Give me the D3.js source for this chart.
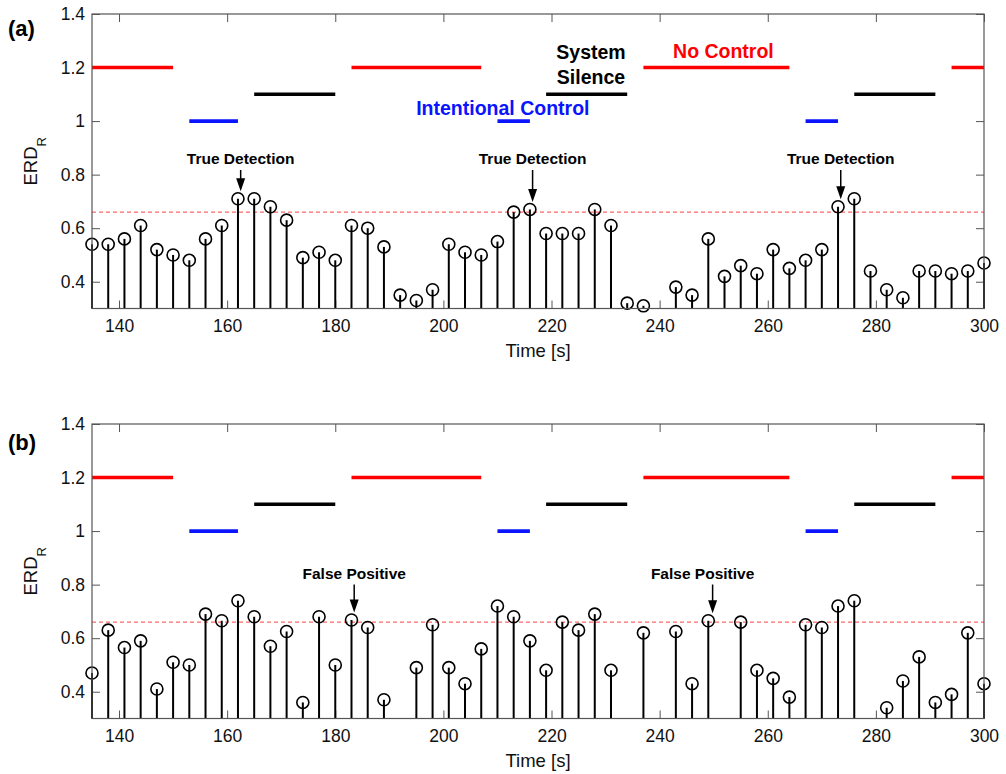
<!DOCTYPE html>
<html>
<head>
<meta charset="utf-8">
<script src="https://cdn.jsdelivr.net/npm/d3@7"></script>
<style>
  body { margin: 0; background: #fff; }
  text { font-family: "Liberation Sans", Arial, Helvetica, sans-serif; }
</style>
</head>
<body>
<svg id="chart" width="1006" height="774"></svg>
<script>
// ---- data -------------------------------------------------------------
const timeTicks = [140, 160, 180, 200, 220, 240, 260, 280, 300];
const erdTicks = [0.4, 0.6, 0.8, 1, 1.2, 1.4];
const threshold = 0.66;

// panel (a): ERD_R per 3 s window
const timesA = [135, 138, 141, 144, 147, 150, 153, 156, 159, 162, 165, 168, 171, 174, 177, 180,
  183, 186, 189, 192, 195, 198, 201, 204, 207, 210, 213, 216, 219, 222, 225, 228, 231, 234, 237,
  243, 246, 249, 252, 255, 258, 261, 264, 267, 270, 273, 276, 279, 282, 285, 288, 291, 294, 297, 300];
const valuesA = [0.54, 0.54, 0.56, 0.61, 0.52, 0.50, 0.48, 0.56, 0.61, 0.71, 0.71, 0.68, 0.63, 0.49, 0.51, 0.48,
  0.61, 0.60, 0.53, 0.35, 0.33, 0.37, 0.54, 0.51, 0.50, 0.55, 0.66, 0.67, 0.58, 0.58, 0.58, 0.67, 0.61, 0.32, 0.31,
  0.38, 0.35, 0.56, 0.42, 0.46, 0.43, 0.52, 0.45, 0.48, 0.52, 0.68, 0.71, 0.44, 0.37, 0.34, 0.44, 0.44, 0.43, 0.44, 0.47];

// panel (b)
const timesB = [135, 138, 141, 144, 147, 150, 153, 156, 159, 162, 165, 168, 171, 174, 177, 180,
  183, 186, 189, 195, 198, 201, 204, 207, 210, 213, 216, 219, 222, 225, 228, 231, 237,
  243, 246, 249, 255, 258, 261, 264, 267, 270, 273, 276, 282, 285, 288, 291, 294, 297, 300];
const valuesB = [0.47, 0.63, 0.565, 0.59, 0.41, 0.51, 0.50, 0.69, 0.665, 0.74, 0.68, 0.57, 0.625, 0.36, 0.68, 0.50,
  0.668, 0.64, 0.37, 0.49, 0.65, 0.49, 0.43, 0.56, 0.72, 0.68, 0.59, 0.48, 0.66, 0.63, 0.69, 0.48, 0.62,
  0.625, 0.43, 0.665, 0.66, 0.48, 0.45, 0.38, 0.65, 0.64, 0.72, 0.74, 0.34, 0.44, 0.53, 0.36, 0.39, 0.62, 0.43];

// task state intervals [start, end] in seconds and the level each is drawn at
const noControlIntervals = [[135, 150], [183, 207], [237, 264], [294, 300]];
const intentionalIntervals = [[153, 162], [210, 216], [267, 273]];
const silenceIntervals = [[165, 180], [219, 234], [276, 291]];
const stateLevels = { noControl: 1.2, silence: 1.1, intentional: 1.0 };

// event markers (time the arrow points at)
const detectionTimesA = [162.5, 216.5, 273.5];
const falsePositiveTimesB = [183.5, 249.8];

// ---- layout -------------------------------------------------------------
const svg = d3.select("#chart");
const X0 = 92, X1 = 984;
const panels = [
  { id: "a", top: 14, bottom: 308.5, times: timesA, values: valuesA, letter: "(a)",
    notes: detectionTimesA.map(t => ({ t, text: "True Detection", dx: 0 })), noteBaseline: 164 },
  { id: "b", top: 424, bottom: 718.5, times: timesB, values: valuesB, letter: "(b)",
    notes: falsePositiveTimesB.map((t, i) => ({ t, text: "False Positive", dx: i === 1 ? -10 : 0 })), noteBaseline: 578.5 }
];

const x = d3.scaleLinear().domain([135, 300]).range([X0, X1]);
const frameColor = "#555";
const tickFont = 17.5;

panels.forEach((p, pi) => {
  const y = d3.scaleLinear().domain([0.3, 1.4]).range([p.bottom, p.top]);
  const g = svg.append("g");

  // axes with inward ticks on all four sides
  const styleAxis = sel => {
    sel.select(".domain").remove();
    sel.selectAll(".tick line").attr("stroke", frameColor).attr("stroke-width", 1);
    sel.selectAll(".tick text").attr("fill", "#111").attr("font-size", tickFont)
      .attr("font-family", '"Liberation Sans", Arial, sans-serif');
  };
  g.append("g").attr("transform", `translate(0,${p.bottom})`)
    .call(d3.axisBottom(x).tickValues(timeTicks).tickSize(-8).tickPadding(11.5).tickFormat(d3.format("d")))
    .call(styleAxis);
  g.append("g").attr("transform", `translate(0,${p.top})`)
    .call(d3.axisTop(x).tickValues(timeTicks).tickSize(-8).tickFormat(""))
    .call(styleAxis);
  g.append("g").attr("transform", `translate(${X0},0)`)
    .call(d3.axisLeft(y).tickValues(erdTicks).tickSize(-8).tickPadding(7).tickFormat(d => String(+d.toFixed(1))))
    .call(styleAxis);
  g.append("g").attr("transform", `translate(${X1},0)`)
    .call(d3.axisRight(y).tickValues(erdTicks).tickSize(-8).tickFormat(""))
    .call(styleAxis);

  // state bars
  const bars = [
    { intervals: noControlIntervals, level: stateLevels.noControl, color: "#ff0000" },
    { intervals: silenceIntervals, level: stateLevels.silence, color: "#000000" },
    { intervals: intentionalIntervals, level: stateLevels.intentional, color: "#0a14ff" }
  ];
  bars.forEach(b => {
    g.selectAll(null).data(b.intervals).enter().append("line")
      .attr("x1", d => x(d[0])).attr("x2", d => x(d[1]))
      .attr("y1", y(b.level)).attr("y2", y(b.level))
      .attr("stroke", b.color).attr("stroke-width", 3.6);
  });

  // detection threshold
  g.append("line")
    .attr("x1", X0).attr("x2", X1).attr("y1", y(threshold)).attr("y2", y(threshold))
    .attr("stroke", "#ff4040").attr("stroke-width", 1).attr("stroke-dasharray", "4,3");

  // stems
  const pts = p.times.map((t, i) => ({ t, v: p.values[i] }));
  g.selectAll(null).data(pts).enter().append("line")
    .attr("x1", d => x(d.t)).attr("x2", d => x(d.t))
    .attr("y1", y(0.3)).attr("y2", d => y(d.v))
    .attr("stroke", "#000").attr("stroke-width", 2);
  g.selectAll(null).data(pts).enter().append("circle")
    .attr("cx", d => x(d.t)).attr("cy", d => y(d.v)).attr("r", 6)
    .attr("fill", "none").attr("stroke", "#000").attr("stroke-width", 1.6);

  // frame
  g.append("rect").attr("x", X0).attr("y", p.top)
    .attr("width", X1 - X0).attr("height", p.bottom - p.top)
    .attr("fill", "none").attr("stroke", frameColor).attr("stroke-width", 1.2);

  // annotations with arrows
  p.notes.forEach(n => {
    const near = pts.reduce((a, b) => Math.abs(b.t - n.t) < Math.abs(a.t - n.t) ? b : a);
    const ax = x(n.t);
    const tip = y(near.v) - 6 - 1.5;
    const top = p.noteBaseline + 6;
    g.append("text").attr("x", ax + n.dx).attr("y", p.noteBaseline)
      .attr("text-anchor", "middle").attr("font-weight", "bold").attr("font-size", 15.5)
      .text(n.text);
    g.append("line").attr("x1", ax).attr("x2", ax).attr("y1", top).attr("y2", tip - 12)
      .attr("stroke", "#000").attr("stroke-width", 1.5);
    g.append("path")
      .attr("d", `M${ax - 4.5},${tip - 13}L${ax + 4.5},${tip - 13}L${ax},${tip}Z`)
      .attr("fill", "#000");
  });

  // panel letter
  g.append("text").attr("x", 8).attr("y", p.top + (pi === 0 ? 22 : 25.5))
    .attr("font-weight", "bold").attr("font-size", 22).text(p.letter);

  // y label ERD_R
  const yl = g.append("text")
    .attr("transform", `translate(36.7,${(p.top + p.bottom) / 2}) rotate(-90)`)
    .attr("text-anchor", "middle").attr("font-size", 18.5).attr("fill", "#111");
  yl.append("tspan").text("ERD");
  yl.append("tspan").attr("dy", 9).attr("font-size", 13).text("R");

  // x label
  g.append("text").attr("x", (X0 + X1) / 2).attr("y", p.bottom + 48.2)
    .attr("text-anchor", "middle").attr("font-size", 18.5).attr("fill", "#111").text("Time [s]");

  // state captions (top panel only)
  if (pi === 0) {
    g.append("text").attr("x", x(251.8)).attr("y", 58.3).attr("text-anchor", "middle")
      .attr("font-weight", "bold").attr("font-size", 19.5).attr("fill", "#ff0000").text("No Control");
    const ss = g.append("text").attr("text-anchor", "middle")
      .attr("font-weight", "bold").attr("font-size", 19.5).attr("fill", "#000");
    ss.append("tspan").attr("x", x(227.3)).attr("y", 59.3).text("System");
    ss.append("tspan").attr("x", x(227.3)).attr("y", 84).text("Silence");
    g.append("text").attr("x", x(211)).attr("y", 115).attr("text-anchor", "middle")
      .attr("font-weight", "bold").attr("font-size", 19.5).attr("fill", "#0a14ff").text("Intentional Control");
  }
});
</script>
</body>
</html>
